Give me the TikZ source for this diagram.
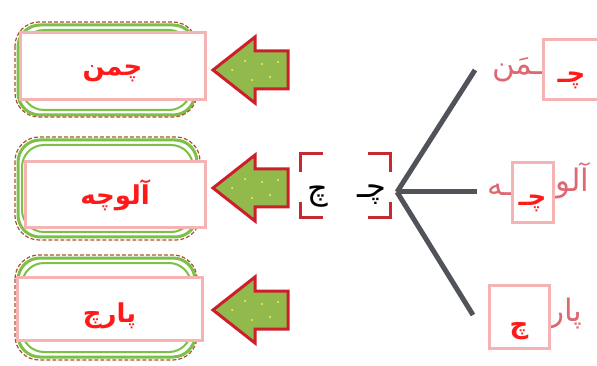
\documentclass[tikz,border=0pt]{standalone}
\usepackage{fontspec}
\newfontfamily\arabicfont[Script=Arabic]{DejaVu Sans}
\TeXXeTstate=1
\usepackage{xcolor}
\definecolor{wordred}{HTML}{FF1A1A}
\definecolor{boxpink}{HTML}{F5B3B3}
\definecolor{fadered}{HTML}{DD6872}
\definecolor{ovalgreen}{HTML}{7CC047}
\definecolor{ovalbrown}{HTML}{A8552F}
\definecolor{arrowgreen}{HTML}{92B94C}
\definecolor{arrowred}{HTML}{CC1F2B}
\definecolor{branchgray}{HTML}{50545A}
\definecolor{bracketred}{HTML}{C42A30}
\tikzset{
  wordbox/.style={draw=boxpink, line width=3pt, fill=white, inner sep=0pt,
    text=wordred, font=\arabicfont\bfseries\fontsize{26}{30}\selectfont},
  fadeword/.style={text=fadered, inner sep=0pt, font=\arabicfont\fontsize{31}{36}\selectfont},
  letter/.style={inner sep=0pt, font=\arabicfont\fontsize{32}{36}\selectfont},
  ovalline/.style={draw=ovalgreen, line width=3pt, rounded corners=22pt},
  ovaldash/.style={draw=ovalbrown, line width=1.2pt, dash pattern=on 4pt off 2pt, rounded corners=24pt},
  blockarrow/.style={fill=arrowgreen, draw=arrowred, line width=3pt, line join=miter},
  branch/.style={draw=branchgray, line width=5pt},
  bracket/.style={draw=bracketred, line width=3pt},
}

\begin{document}
\begin{tikzpicture}[x=1pt,y=-1pt]
    \useasboundingbox (0,0) rectangle (597,366);
    % green ovals
    \draw[ovalline] (18,25) rectangle (195,115);
    \draw[ovalline,line width=2pt] (22,30) rectangle (191,110);
    \draw[ovaldash] (15,22) rectangle (197,117);
    \draw[ovalline] (18,140) rectangle (197,237);
    \draw[ovalline,line width=2pt] (22,145) rectangle (193,232);
    \draw[ovaldash] (15,137) rectangle (200,240);
    \draw[ovalline] (18,258) rectangle (195,357);
    \draw[ovalline,line width=2pt] (22,263) rectangle (191,352);
    \draw[ovaldash] (15,255) rectangle (197,360);
    % word boxes
    \node[wordbox, minimum width=185pt, minimum height=67pt] (box1) at (112.5,66.5) {\raisebox{-9pt}[0pt][0pt]{\beginR چمن\endR}};
    \node[wordbox, minimum width=180pt, minimum height=66pt] (box2) at (115,195) {\raisebox{-10pt}[0pt][0pt]{\beginR آلوچه\endR}};
    \node[wordbox, minimum width=185pt, minimum height=63pt] (box3) at (109.5,308.5) {\raisebox{-14pt}[0pt][0pt]{\beginR پارچ\endR}};
    % block arrows
    \filldraw[blockarrow] (213,70) -- ++(42,-33) -- ++(0,14) -- ++(33,0) -- ++(0,38) -- ++(-33,0) -- ++(0,14) -- cycle;
    \filldraw[blockarrow] (213,188) -- ++(42,-33) -- ++(0,14) -- ++(33,0) -- ++(0,38) -- ++(-33,0) -- ++(0,14) -- cycle;
    \filldraw[blockarrow] (213,310) -- ++(42,-33) -- ++(0,14) -- ++(33,0) -- ++(0,38) -- ++(-33,0) -- ++(0,14) -- cycle;
    \foreach \c in {70,188,310}{
      \fill[yellow!60] (232,\c) circle (1pt) (245,\c-9) circle (1pt) (262,\c-6) circle (1pt)
        (270,\c+7) circle (1pt) (252,\c+10) circle (1pt) (278,\c-8) circle (1pt);
    }
    % letter in brackets
    \draw[bracket] (323,154) -- (300,154) -- (300,172);
    \draw[bracket] (300,202) -- (300,218) -- (323,218);
    \draw[bracket] (368,154) -- (390,154) -- (390,172);
    \draw[bracket] (390,202) -- (390,218) -- (368,218);
    \node[letter] (isol) at (318,197) {\beginR چ\endR};
    \node[letter] (init) at (372,195) {\beginR چـ\endR};
    % branches
    \coordinate (hub) at (397,192);
    \coordinate (endA) at (475,70);
    \coordinate (endB) at (477,192);
    \coordinate (endC) at (473,315);
    \draw[branch] (hub) -- (endA);
    \draw[branch] (hub) -- (endB);
    \draw[branch] (hub) -- (endC);
    % words with a gap
    \node[fadeword, anchor=east] (restA) at (543,70) {\beginR ـمَن\endR};
    \node[fadeword, anchor=west] (headB) at (555,181) {\beginR آلو\endR};
    \node[fadeword, anchor=east] (restB) at (513,190) {\beginR ـه\endR};
    \node[fadeword, anchor=west] (headC) at (549,314) {\beginR پار\endR};
    \node[wordbox, minimum width=57pt, minimum height=60pt] (gap1) at (571.5,70) {\raisebox{-13pt}[0pt][0pt]{\beginR چـ\endR}};
    \node[wordbox, minimum width=41pt, minimum height=60pt] (gap2) at (532.5,193) {\raisebox{-13pt}[0pt][0pt]{\beginR چـ\endR}};
    \node[wordbox, minimum width=60pt, minimum height=63pt] (gap3) at (519,316.5) {\raisebox{-17pt}[0pt][0pt]{\beginR چ\endR}};
\end{tikzpicture}
\end{document}
